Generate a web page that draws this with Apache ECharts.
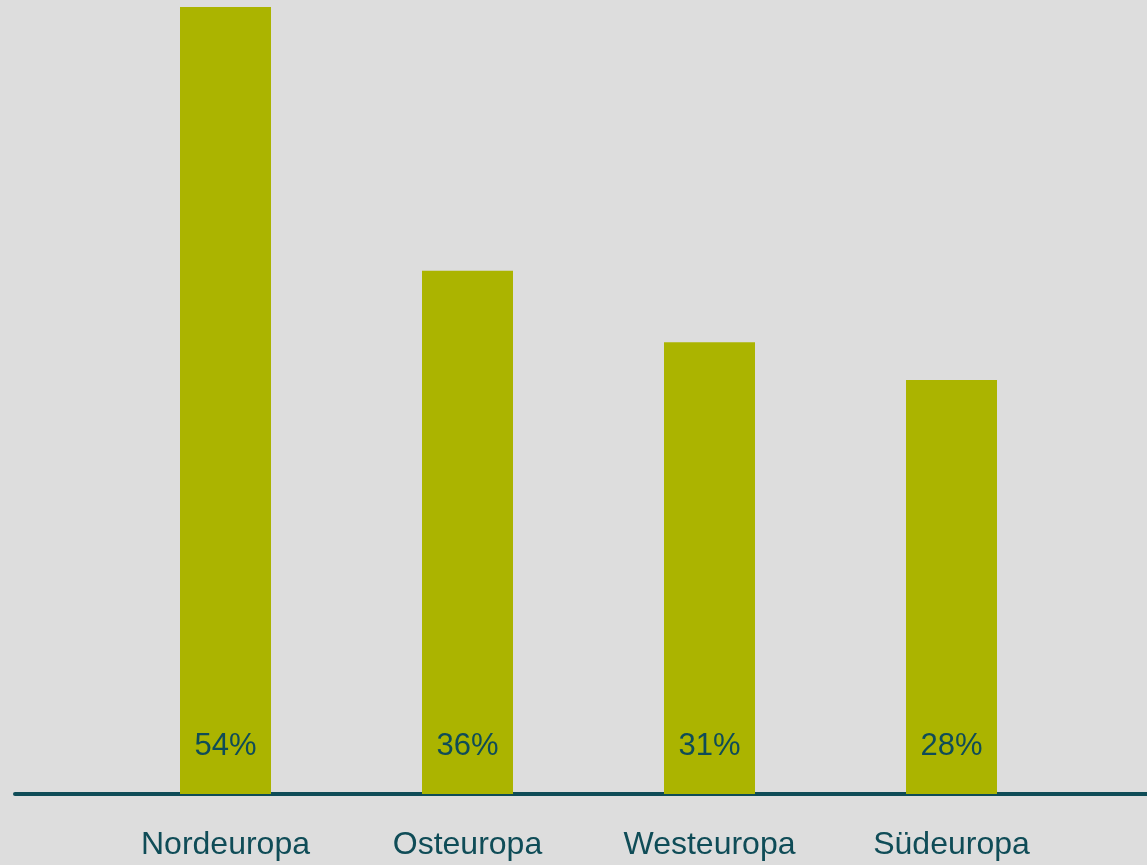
<!DOCTYPE html>
<html>
<head>
<meta charset="utf-8">
<script src="https://cdn.jsdelivr.net/npm/echarts@6/dist/echarts.min.js"></script>
<style>
html,body{margin:0;padding:0;background:#dddddd;}
#chart{width:1147px;height:865px;}
</style>
</head>
<body>
<div id="chart"></div>
<script>
var categories = ['Nordeuropa', 'Osteuropa', 'Westeuropa', 'Südeuropa'];
var shareValues = [54, 35.9, 31.0, 28.4];
var shareLabels = ['54%', '36%', '31%', '28%'];

var textColor = '#0f4c57';
var fontFam = 'Arial, "Liberation Sans", sans-serif';

var chart = echarts.init(document.getElementById('chart'));
chart.setOption({
  backgroundColor: '#dddddd',
  animation: false,
  grid: [
    { left: 104.5, right: 74.5, top: 7, bottom: 71 },
    { left: 15, right: 0, top: 7, bottom: 71 }
  ],
  xAxis: [
    {
      type: 'category',
      gridIndex: 0,
      data: categories,
      axisLine: { show: false },
      axisTick: { show: false },
      axisLabel: { color: textColor, fontSize: 32, fontFamily: fontFam, margin: 35 }
    },
    {
      type: 'value',
      gridIndex: 1,
      min: 0, max: 1,
      axisLine: { show: true, onZero: false, lineStyle: { color: '#0f4c57', width: 4 } },
      axisTick: { show: false },
      axisLabel: { show: false },
      splitLine: { show: false }
    }
  ],
  yAxis: [
    { type: 'value', gridIndex: 0, min: 0, max: 54, show: false },
    { type: 'value', gridIndex: 1, min: 0, max: 1, show: false }
  ],
  series: [
    {
      type: 'bar',
      xAxisIndex: 0,
      yAxisIndex: 0,
      data: shareValues,
      barWidth: 91,
      itemStyle: { color: '#abb400' },
      label: {
        show: true,
        position: 'insideBottom',
        distance: 32,
        color: textColor,
        fontSize: 31,
        fontFamily: fontFam,
        formatter: function (p) { return shareLabels[p.dataIndex]; }
      }
    }
  ]
});
</script>
</body>
</html>
